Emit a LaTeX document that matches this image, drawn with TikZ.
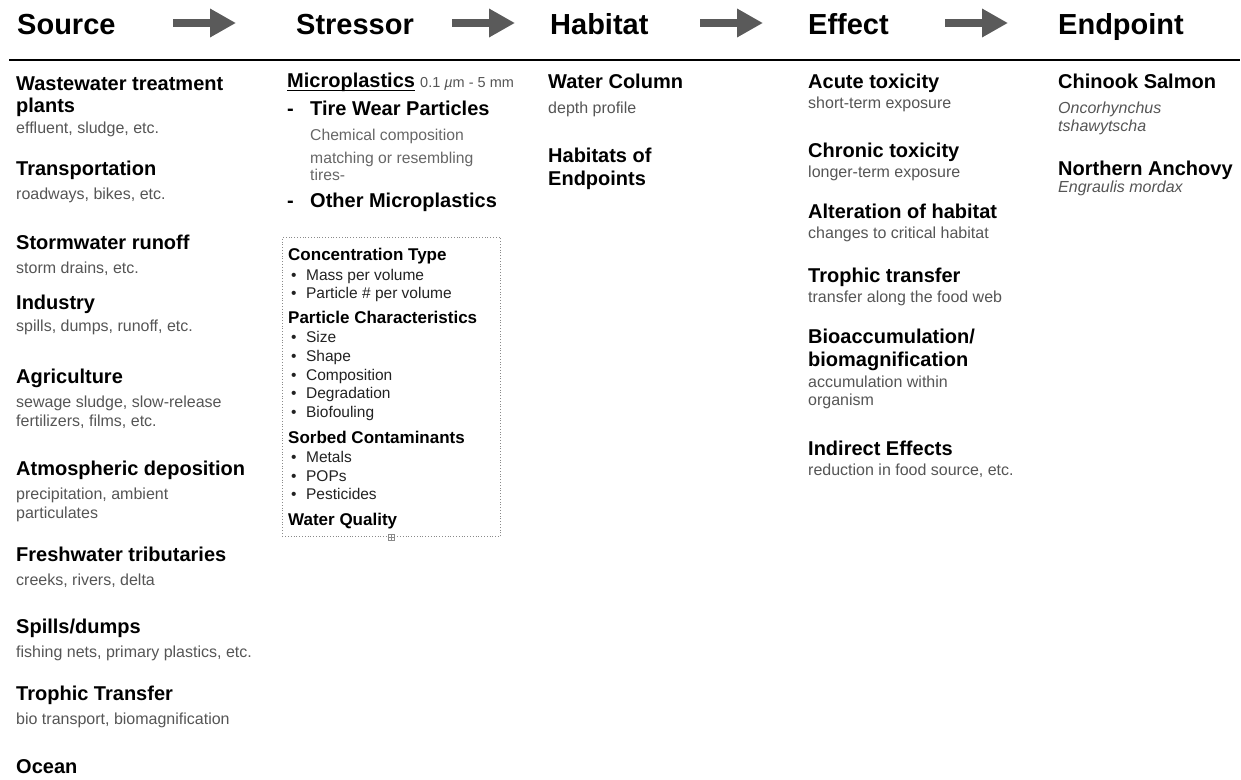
\documentclass[tikz,border=0pt]{standalone}
\usepackage{fontspec}
\setmainfont{Liberation Sans}
\usetikzlibrary{arrows.meta}
\definecolor{subgray}{HTML}{555555}
\definecolor{litgray}{HTML}{666666}
\definecolor{arrgray}{HTML}{5A5A5A}
\definecolor{boxgray}{HTML}{8A8A8A}
\definecolor{itemc}{HTML}{222222}
\begin{document}
\begin{tikzpicture}[x=1pt,y=-1pt,
  hd/.style={anchor=base west, inner sep=0pt, font=\fontsize{29}{31}\selectfont\bfseries, text=black},
  ttl/.style={anchor=base west, inner sep=0pt, font=\fontsize{20}{22}\selectfont\bfseries, text=black},
  sub/.style={anchor=base west, inner sep=0pt, font=\fontsize{16}{18}\selectfont, text=subgray},
  lsub/.style={anchor=base west, inner sep=0pt, font=\fontsize{15.7}{18}\selectfont, text=litgray},
  isub/.style={anchor=base west, inner sep=0pt, font=\fontsize{16}{18}\selectfont\itshape, text=subgray},
  bhd/.style={anchor=base west, inner sep=0pt, font=\fontsize{17}{19}\selectfont\bfseries, text=black},
  bit/.style={anchor=base west, inner sep=0pt, font=\fontsize{15.5}{17}\selectfont, text=itemc},
  arr/.style={line width=8pt, draw=arrgray, -{Triangle[length=26pt,width=27pt]}},
]
\useasboundingbox (0,0) rectangle (1241,779);
% headers
\node[hd] (hsrc) at (17,34) {Source};
\node[hd] (hstr) at (296,34) {Stressor};
\node[hd] (hhab) at (550,34) {Habitat};
\node[hd] (heff) at (808,34) {Effect};
\node[hd] (hend) at (1058,34) {Endpoint};
\coordinate (a1s) at (173,23); \coordinate (a1e) at (236,23);
\coordinate (a2s) at (452,23); \coordinate (a2e) at (515,23);
\coordinate (a3s) at (700,23); \coordinate (a3e) at (763,23);
\coordinate (a4s) at (945,23); \coordinate (a4e) at (1008,23);
\draw[arr] (a1s) -- (a1e);
\draw[arr] (a2s) -- (a2e);
\draw[arr] (a3s) -- (a3e);
\draw[arr] (a4s) -- (a4e);
\coordinate (rl) at (9,60); \coordinate (rr) at (1240,60);
\draw[line width=2.5pt] (rl) -- (rr);
% Source column
\node[ttl] (s1a) at (16,90) {Wastewater treatment};
\node[ttl] (s1b) at (16,112) {plants};
\node[sub] (s1c) at (16,133) {effluent, sludge, etc.};
\node[ttl] (s2a) at (16,175) {Transportation};
\node[sub] (s2c) at (16,199) {roadways, bikes, etc.};
\node[ttl] (s3a) at (16,249) {Stormwater runoff};
\node[sub] (s3c) at (16,273) {storm drains, etc.};
\node[ttl] (s4a) at (16,309) {Industry};
\node[sub] (s4c) at (16,331) {spills, dumps, runoff, etc.};
\node[ttl] (s5a) at (16,383) {Agriculture};
\node[sub] (s5c) at (16,407) {sewage sludge, slow-release};
\node[sub] (s5d) at (16,426) {fertilizers, films, etc.};
\node[ttl] (s6a) at (16,475) {Atmospheric deposition};
\node[sub] (s6c) at (16,499) {precipitation, ambient};
\node[sub] (s6d) at (16,518) {particulates};
\node[ttl] (s7a) at (16,561) {Freshwater tributaries};
\node[sub] (s7c) at (16,585) {creeks, rivers, delta};
\node[ttl] (s8a) at (16,633) {Spills/dumps};
\node[sub] (s8c) at (16,657) {fishing nets, primary plastics, etc.};
\node[ttl] (s9a) at (16,700) {Trophic Transfer};
\node[sub] (s9c) at (16,724) {bio transport, biomagnification};
\node[ttl] (s10a) at (16,773) {Ocean};
% Stressor column
\node[ttl] (micro) at (287,87) {Microplastics};
\draw[line width=1.3pt] ([yshift=-3.5pt]micro.base west) -- ([yshift=-3.5pt]micro.base east);
\node[anchor=base west, inner sep=0pt, font=\fontsize{14.5}{16}\selectfont, text=subgray] (msize) at (420,87) {0.1 {\itshape µ}m - 5 mm};
\node[ttl] (d1) at (287,115) {-};
\node[ttl] (tw) at (310,115) {Tire Wear Particles};
\node[lsub] (tw1) at (310,140) {Chemical composition};
\node[lsub] (tw2) at (310,163) {matching or resembling};
\node[lsub] (tw3) at (310,180) {tires-};
\node[ttl] (d2) at (287,207) {-};
\node[ttl] (om) at (310,207) {Other Microplastics};
\node[draw=boxgray, dotted, line width=0.8pt, anchor=north west, minimum width=218pt, minimum height=299pt, inner sep=0pt] (box) at (282,237) {};
\node[draw=boxgray, fill=white, line width=0.5pt, minimum size=6pt, inner sep=0pt] (hdl) at (391,537) {};
\draw[boxgray, line width=0.5pt] (hdl.north) -- (hdl.south) (hdl.west) -- (hdl.east);
\node[bhd] (b1) at (288,260) {Concentration Type};
\node[bit] (b1a) at (291,280) {•\hspace{9.5pt}Mass per volume};
\node[bit] (b1b) at (291,298) {•\hspace{9.5pt}Particle \# per volume};
\node[bhd] (b2) at (288,323) {Particle Characteristics};
\node[bit] (b2a) at (291,342) {•\hspace{9.5pt}Size};
\node[bit] (b2b) at (291,361) {•\hspace{9.5pt}Shape};
\node[bit] (b2c) at (291,380) {•\hspace{9.5pt}Composition};
\node[bit] (b2d) at (291,398) {•\hspace{9.5pt}Degradation};
\node[bit] (b2e) at (291,417) {•\hspace{9.5pt}Biofouling};
\node[bhd] (b3) at (288,443) {Sorbed Contaminants};
\node[bit] (b3a) at (291,462) {•\hspace{9.5pt}Metals};
\node[bit] (b3b) at (291,481) {•\hspace{9.5pt}POPs};
\node[bit] (b3c) at (291,499) {•\hspace{9.5pt}Pesticides};
\node[bhd] (b4) at (288,525) {Water Quality};
% Habitat column
\node[ttl] (h1a) at (548,88) {Water Column};
\node[sub] (h1c) at (548,113) {depth profile};
\node[ttl] (h2a) at (548,162) {Habitats of};
\node[ttl] (h2b) at (548,185) {Endpoints};
% Effect column
\node[ttl] (e1a) at (808,88) {Acute toxicity};
\node[sub] (e1c) at (808,108) {short-term exposure};
\node[ttl] (e2a) at (808,157) {Chronic toxicity};
\node[sub] (e2c) at (808,177) {longer-term exposure};
\node[ttl] (e3a) at (808,218) {Alteration of habitat};
\node[sub] (e3c) at (808,238) {changes to critical habitat};
\node[ttl] (e4a) at (808,282) {Trophic transfer};
\node[sub] (e4c) at (808,302) {transfer along the food web};
\node[ttl] (e5a) at (808,343) {Bioaccumulation/};
\node[ttl] (e5b) at (808,366) {biomagnification};
\node[sub] (e5c) at (808,387) {accumulation within};
\node[sub] (e5d) at (808,405) {organism};
\node[ttl] (e6a) at (808,455) {Indirect Effects};
\node[sub] (e6c) at (808,475) {reduction in food source, etc.};
% Endpoint column
\node[ttl] (n1a) at (1058,88) {Chinook Salmon};
\node[isub] (n1c) at (1058,113) {Oncorhynchus};
\node[isub] (n1d) at (1058,131) {tshawytscha};
\node[ttl] (n2a) at (1058,175) {Northern Anchovy};
\node[isub] (n2c) at (1058,192) {Engraulis mordax};
\end{tikzpicture}
\end{document}
